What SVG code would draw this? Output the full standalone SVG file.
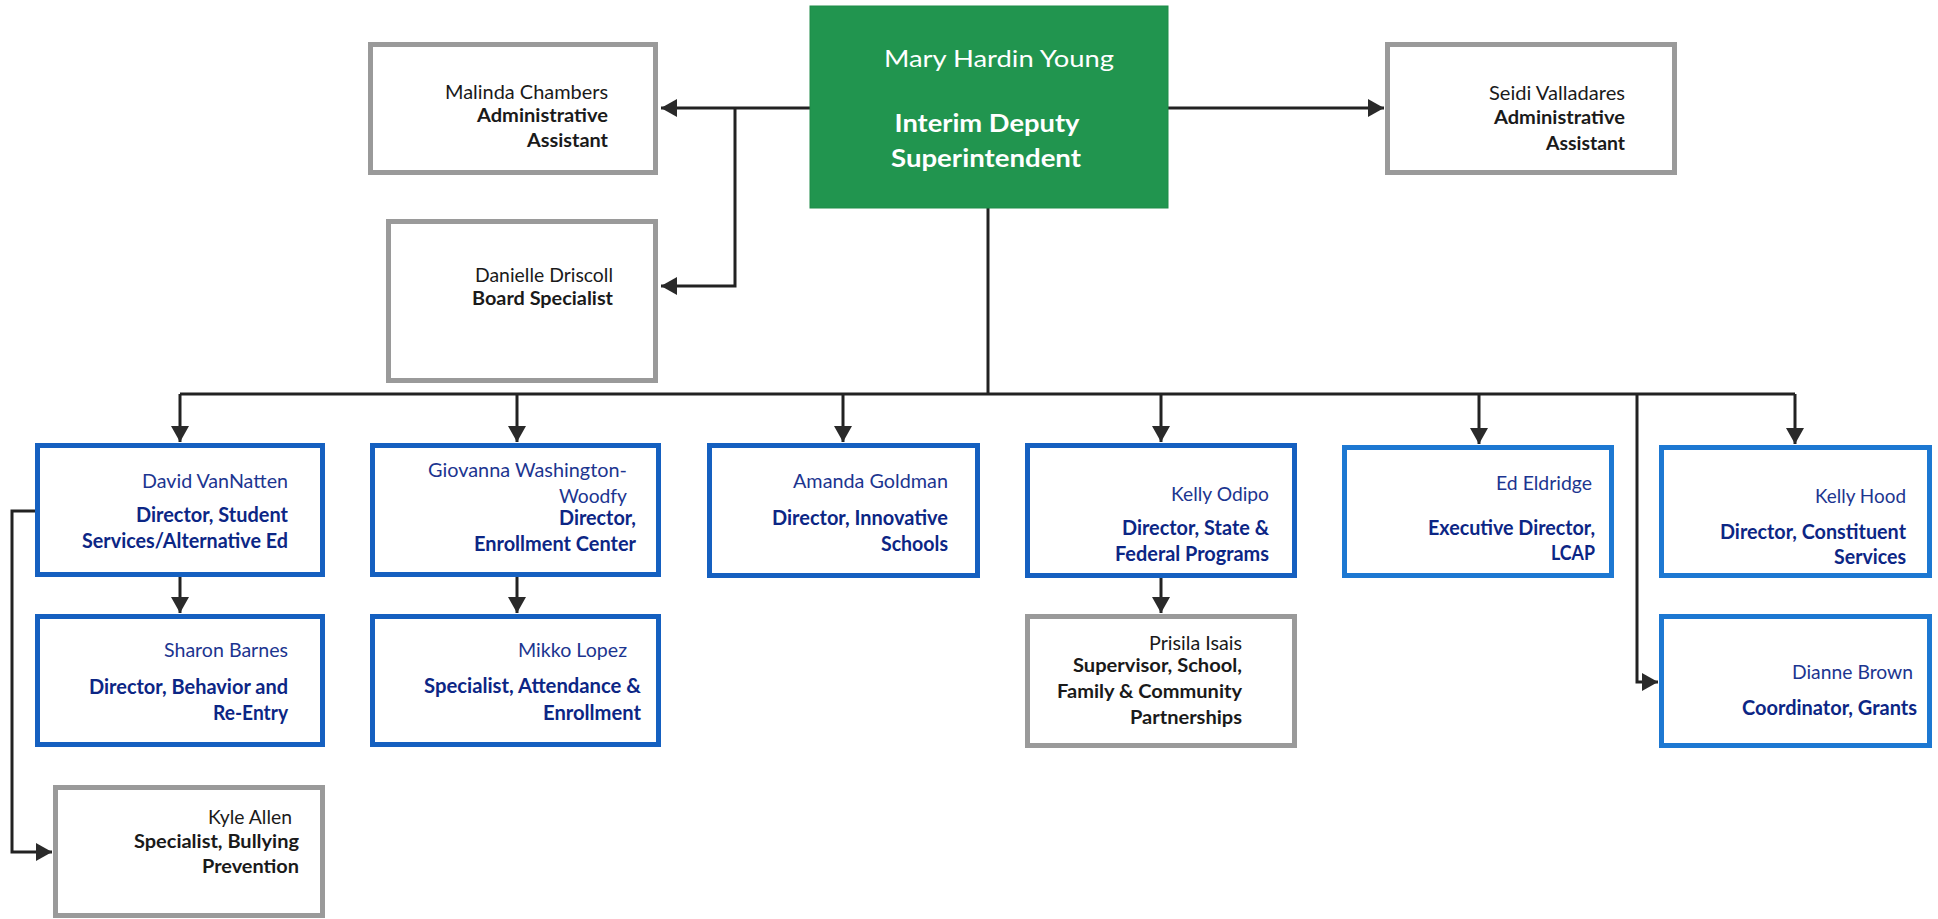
<svg xmlns="http://www.w3.org/2000/svg" width="1938" height="919" viewBox="0 0 1938 919">
<style>
  text { font-family: Lato, "Liberation Sans", sans-serif; text-anchor: end; }
  .gray { fill: #ffffff; stroke: #9a9a9a; stroke-width: 5; }
  .blue { fill: #ffffff; stroke: #1560c0; stroke-width: 5; }
  .blue2 { fill: #ffffff; stroke: #1d78d2; stroke-width: 5; }
  .green { fill: #21954f; stroke: #1e8c49; stroke-width: 1; }
  .n { font-size: 19px; fill: #1a1a1a; }
  .t { font-size: 19px; font-weight: bold; fill: #1a1a1a; }
  .bn { font-size: 20px; fill: #1c3590; }
  .bt { font-size: 20px; font-weight: bold; fill: #0c2685; }
  .wn { font-size: 24px; fill: #ffffff; text-anchor: middle; }
  .wt { font-size: 25px; font-weight: bold; fill: #ffffff; text-anchor: middle; }
  .c { fill: none; stroke: #222222; stroke-width: 3; }
</style>
<defs>
  <marker id="ah" markerUnits="userSpaceOnUse" markerWidth="18" markerHeight="18" refX="16" refY="9" orient="auto">
    <path d="M0,0 L16,9 L0,18 Z" fill="#2a2a2a"/>
  </marker>
</defs>
<rect width="1938" height="919" fill="#ffffff"/>

<g id="connectors">
  <path class="c" d="M810,108 H661" marker-end="url(#ah)"/>
  <path class="c" d="M735,108 V286 H661" marker-end="url(#ah)"/>
  <path class="c" d="M1168,108 H1384" marker-end="url(#ah)"/>
  <path class="c" d="M988,208 V394"/>
  <path class="c" d="M180,394 H1795"/>
  <path class="c" d="M180,394 V442" marker-end="url(#ah)"/>
  <path class="c" d="M517,394 V442" marker-end="url(#ah)"/>
  <path class="c" d="M843,394 V442" marker-end="url(#ah)"/>
  <path class="c" d="M1161,394 V442" marker-end="url(#ah)"/>
  <path class="c" d="M1479,394 V444" marker-end="url(#ah)"/>
  <path class="c" d="M1795,394 V444" marker-end="url(#ah)"/>
  <path class="c" d="M1637,394 V682 H1658" marker-end="url(#ah)"/>
  <path class="c" d="M180,577 V613" marker-end="url(#ah)"/>
  <path class="c" d="M517,577 V613" marker-end="url(#ah)"/>
  <path class="c" d="M1161,578 V613" marker-end="url(#ah)"/>
  <path class="c" d="M37,511 H12 V852 H52" marker-end="url(#ah)"/>
</g>

<g id="node-mary">
  <rect class="green" x="810" y="6" width="358" height="202"/>
  <text class="wn" x="999" y="67" textLength="230" lengthAdjust="spacingAndGlyphs">Mary Hardin Young</text>
  <text class="wt" x="987" y="132" textLength="185" lengthAdjust="spacingAndGlyphs">Interim Deputy</text>
  <text class="wt" x="986" y="167" textLength="190" lengthAdjust="spacingAndGlyphs">Superintendent</text>
</g>

<g id="node-malinda">
  <rect class="gray" x="370.5" y="44.5" width="285" height="128"/>
  <text class="n" x="608" y="99" textLength="163" lengthAdjust="spacingAndGlyphs">Malinda Chambers</text>
  <text class="t" x="608" y="122" textLength="131" lengthAdjust="spacingAndGlyphs">Administrative</text>
  <text class="t" x="608" y="147" textLength="81" lengthAdjust="spacingAndGlyphs">Assistant</text>
</g>

<g id="node-danielle">
  <rect class="gray" x="388.5" y="221.5" width="267" height="159"/>
  <text class="n" x="613" y="282" textLength="138" lengthAdjust="spacingAndGlyphs">Danielle Driscoll</text>
  <text class="t" x="613" y="305" textLength="141" lengthAdjust="spacingAndGlyphs">Board Specialist</text>
</g>

<g id="node-seidi">
  <rect class="gray" x="1387.5" y="44.5" width="287" height="128"/>
  <text class="n" x="1625" y="100" textLength="136" lengthAdjust="spacingAndGlyphs">Seidi Valladares</text>
  <text class="t" x="1625" y="124" textLength="131" lengthAdjust="spacingAndGlyphs">Administrative</text>
  <text class="t" x="1625" y="150" textLength="79" lengthAdjust="spacingAndGlyphs">Assistant</text>
</g>

<g id="node-david">
  <rect class="blue" x="37.5" y="445.5" width="285" height="129"/>
  <text class="bn" x="288" y="488" textLength="146" lengthAdjust="spacingAndGlyphs">David VanNatten</text>
  <text class="bt" x="288" y="522" textLength="152" lengthAdjust="spacingAndGlyphs">Director, Student</text>
  <text class="bt" x="288" y="548" textLength="206" lengthAdjust="spacingAndGlyphs">Services/Alternative Ed</text>
</g>

<g id="node-giovanna">
  <rect class="blue" x="372.5" y="445.5" width="286" height="129"/>
  <text class="bn" x="627" y="477" textLength="199" lengthAdjust="spacingAndGlyphs">Giovanna Washington-</text>
  <text class="bn" x="627" y="503" textLength="68" lengthAdjust="spacingAndGlyphs">Woodfy</text>
  <text class="bt" x="636" y="525" textLength="77" lengthAdjust="spacingAndGlyphs">Director,</text>
  <text class="bt" x="636" y="551" textLength="162" lengthAdjust="spacingAndGlyphs">Enrollment Center</text>
</g>

<g id="node-amanda">
  <rect class="blue" x="709.5" y="445.5" width="268" height="130"/>
  <text class="bn" x="948" y="488" textLength="155" lengthAdjust="spacingAndGlyphs">Amanda Goldman</text>
  <text class="bt" x="948" y="525" textLength="176" lengthAdjust="spacingAndGlyphs">Director, Innovative</text>
  <text class="bt" x="948" y="551" textLength="67" lengthAdjust="spacingAndGlyphs">Schools</text>
</g>

<g id="node-odipo">
  <rect class="blue" x="1027.5" y="445.5" width="267" height="130"/>
  <text class="bn" x="1269" y="501" textLength="98" lengthAdjust="spacingAndGlyphs">Kelly Odipo</text>
  <text class="bt" x="1269" y="535" textLength="147" lengthAdjust="spacingAndGlyphs">Director, State &amp;</text>
  <text class="bt" x="1269" y="561" textLength="154" lengthAdjust="spacingAndGlyphs">Federal Programs</text>
</g>

<g id="node-ed">
  <rect class="blue2" x="1344.5" y="447.5" width="267" height="128"/>
  <text class="bn" x="1592" y="490" textLength="96" lengthAdjust="spacingAndGlyphs">Ed Eldridge</text>
  <text class="bt" x="1595" y="535" textLength="167" lengthAdjust="spacingAndGlyphs">Executive Director,</text>
  <text class="bt" x="1595" y="560" textLength="44" lengthAdjust="spacingAndGlyphs">LCAP</text>
</g>

<g id="node-hood">
  <rect class="blue2" x="1661.5" y="447.5" width="268" height="128"/>
  <text class="bn" x="1906" y="503" textLength="91" lengthAdjust="spacingAndGlyphs">Kelly Hood</text>
  <text class="bt" x="1906" y="539" textLength="186" lengthAdjust="spacingAndGlyphs">Director, Constituent</text>
  <text class="bt" x="1906" y="564" textLength="72" lengthAdjust="spacingAndGlyphs">Services</text>
</g>

<g id="node-sharon">
  <rect class="blue" x="37.5" y="616.5" width="285" height="128"/>
  <text class="bn" x="288" y="657" textLength="124" lengthAdjust="spacingAndGlyphs">Sharon Barnes</text>
  <text class="bt" x="288" y="694" textLength="199" lengthAdjust="spacingAndGlyphs">Director, Behavior and</text>
  <text class="bt" x="288" y="720" textLength="75" lengthAdjust="spacingAndGlyphs">Re-Entry</text>
</g>

<g id="node-mikko">
  <rect class="blue" x="372.5" y="616.5" width="286" height="128"/>
  <text class="bn" x="627" y="657" textLength="109" lengthAdjust="spacingAndGlyphs">Mikko Lopez</text>
  <text class="bt" x="641" y="693" textLength="217" lengthAdjust="spacingAndGlyphs">Specialist, Attendance &amp;</text>
  <text class="bt" x="641" y="720" textLength="98" lengthAdjust="spacingAndGlyphs">Enrollment</text>
</g>

<g id="node-prisila">
  <rect class="gray" x="1027.5" y="616.5" width="267" height="129"/>
  <text class="n" x="1242" y="650" textLength="93" lengthAdjust="spacingAndGlyphs">Prisila Isais</text>
  <text class="t" x="1242" y="672" textLength="169" lengthAdjust="spacingAndGlyphs">Supervisor, School,</text>
  <text class="t" x="1242" y="698" textLength="185" lengthAdjust="spacingAndGlyphs">Family &amp; Community</text>
  <text class="t" x="1242" y="724" textLength="112" lengthAdjust="spacingAndGlyphs">Partnerships</text>
</g>

<g id="node-dianne">
  <rect class="blue2" x="1661.5" y="616.5" width="268" height="129"/>
  <text class="bn" x="1913" y="679" textLength="121" lengthAdjust="spacingAndGlyphs">Dianne Brown</text>
  <text class="bt" x="1917" y="715" textLength="175" lengthAdjust="spacingAndGlyphs">Coordinator, Grants</text>
</g>

<g id="node-kyle">
  <rect class="gray" x="55.5" y="787.5" width="267" height="128"/>
  <text class="n" x="292" y="824" textLength="84" lengthAdjust="spacingAndGlyphs">Kyle Allen</text>
  <text class="t" x="299" y="848" textLength="165" lengthAdjust="spacingAndGlyphs">Specialist, Bullying</text>
  <text class="t" x="299" y="873" textLength="97" lengthAdjust="spacingAndGlyphs">Prevention</text>
</g>
</svg>
